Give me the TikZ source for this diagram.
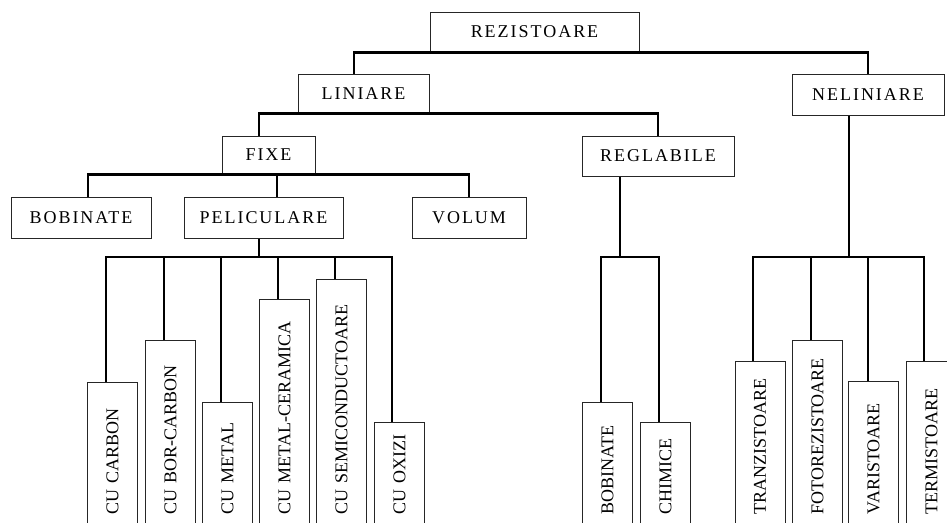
\documentclass[tikz,border=0pt]{standalone}
\usepackage{fontspec}
\usepackage{tikz}
\usetikzlibrary{positioning}
\newfontfamily\boxfont[LetterSpace=11]{Liberation Serif}
\newfontfamily\leaffont{Liberation Serif}
\hyphenpenalty=10000
\exhyphenpenalty=10000

\begin{document}
\begin{tikzpicture}[x=1pt, y=-1pt,
    box/.style={rectangle, draw=black!85, line width=1pt, fill=white, inner sep=0pt, align=center, font=\boxfont\fontsize{18}{21}\selectfont},
    leaf/.style={rectangle, draw=black!85, line width=1pt, fill=white, rotate=90, anchor=east, inner xsep=16pt, inner ysep=0pt, minimum height=50pt, align=left, text width=#1, font=\leaffont\fontsize{18}{21}\selectfont},
    link/.style={line width=2.6pt, line join=miter}]

\path[use as bounding box, fill=white] (0,0) rectangle (947,522);
\clip (0,0) rectangle (947,522);

% Upper levels
\node[box, minimum width=209pt, minimum height=40pt] (rez) at (534.5,32) {REZISTOARE};
\node[box, minimum width=131pt, minimum height=39pt] (lin) at (363.5,93.5) {LINIARE};
\node[box, minimum width=152pt, minimum height=41pt] (nel) at (868,94.5) {NELINIARE};
\node[box, minimum width=93pt, minimum height=38pt] (fixe) at (268.5,155) {FIXE};
\node[box, minimum width=152pt, minimum height=40pt] (regl) at (658,156) {REGLABILE};
\node[box, minimum width=140pt, minimum height=41pt] (bob) at (81,217.5) {BOBINATE};
\node[box, minimum width=159pt, minimum height=41pt] (pel) at (263.5,217.5) {PELICULARE};
\node[box, minimum width=114pt, minimum height=41pt] (vol) at (469,217.5) {VOLUM};

% Leaves (vertical boxes, cut at the bottom)
\node[leaf=116pt] (c1) at (112.5,382) {CU~CARBON};
\node[leaf=158pt] (c2) at (170.5,340) {CU~BOR-CARBON};
\node[leaf=96pt] (c3) at (227.5,402) {CU~METAL};
\node[leaf=199pt] (c4) at (284.5,299) {CU~METAL-CERAMICA};
\node[leaf=219pt] (c5) at (341.5,279) {CU~SEMICONDUCTOARE};
\node[leaf=76pt] (c6) at (399.5,422) {CU~OXIZI};
\node[leaf=96pt] (r1) at (607.5,402) {BOBINATE};
\node[leaf=76pt] (r2) at (665.5,422) {CHIMICE};
\node[leaf=137pt] (n1) at (760,361) {TRANZISTOARE};
\node[leaf=158pt] (n2) at (817.5,340) {FOTOREZISTOARE};
\node[leaf=117pt] (n3) at (873.5,381) {VARISTOARE};
\node[leaf=137pt] (n4) at (931.5,361) {TERMISTOARE};

% Bus points
\coordinate (pbus) at (259,257);
\coordinate (rbus) at (620,257);
\coordinate (nbus) at (849,257);

% Connectors
\draw[link] ([xshift=-9.5pt]lin.north) |- (rez.south) -| (nel.north);
\draw[link] ([xshift=-9.5pt]fixe.north) |- (lin.south) -| (regl.north);
\draw[link] ([xshift=7pt]bob.north) |- (fixe.south) -| (vol.north);
\draw[link] ([xshift=13.5pt]pel.north) -- ([xshift=13.5pt]pel.north |- fixe.south);

\draw[link] (pel.south -| pbus) -- (pbus);
\draw[link] ([xshift=-6.5pt]c1.east) |- (pbus) -| ([xshift=-7.5pt]c6.east);
\foreach \n in {c2,c3,c4,c5}
  \draw[link] ([xshift=-6.5pt]\n.east) -- ([xshift=-6.5pt]\n.east |- pbus);

\draw[link] (regl.south -| rbus) -- (rbus);
\draw[link] ([xshift=-6.5pt]r1.east) |- (rbus) -| ([xshift=-6.5pt]r2.east);

\draw[link] (nel.south -| nbus) -- (nbus);
\draw[link] ([xshift=-7pt]n1.east) |- (nbus) -| ([xshift=-7.5pt]n4.east);
\draw[link] ([xshift=-6.5pt]n2.east) -- ([xshift=-6.5pt]n2.east |- nbus);
\draw[link] ([xshift=-5.5pt]n3.east) -- ([xshift=-5.5pt]n3.east |- nbus);

\end{tikzpicture}
\end{document}
